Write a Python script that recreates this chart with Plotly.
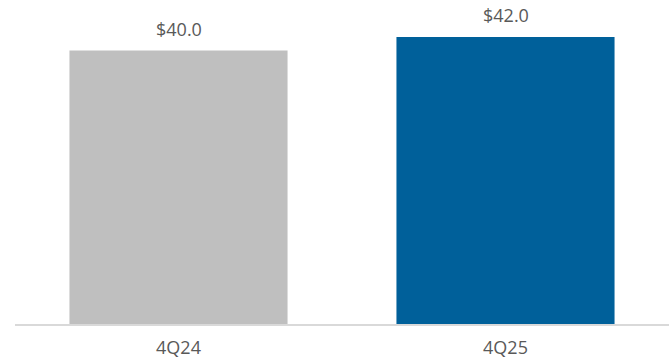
import plotly.graph_objects as go

categories = ["4Q24", "4Q25"]
values = [40.0, 42.0]
labels = ["$40.0", "$42.0"]
colors = ["#BFBFBF", "#00609A"]

fig = go.Figure()
fig.add_trace(go.Bar(x=categories, y=values, marker=dict(color=colors, line=dict(width=0)),
                     hoverinfo="skip"))

for c, v, t in zip(categories, values, labels):
    fig.add_annotation(x=c, y=v, text=t, showarrow=False, yanchor="bottom", yshift=8,
                       font=dict(family="Open Sans", size=18, color="#595959"))

fig.update_layout(
    width=672, height=361,
    margin=dict(l=15, r=3, t=0, b=37),
    plot_bgcolor="white", paper_bgcolor="white",
    bargap=0.333, showlegend=False,
    font=dict(family="Open Sans", size=18, color="#595959"),
)
fig.update_xaxes(showline=True, linecolor="#D9D9D9", linewidth=2, showgrid=False,
                 ticks="", ticklabelstandoff=6,
                 tickfont=dict(family="Open Sans", size=18, color="#595959"))
fig.update_yaxes(visible=False, range=[0, 47.4], showgrid=False, zeroline=False)

fig.write_html("out.html")
